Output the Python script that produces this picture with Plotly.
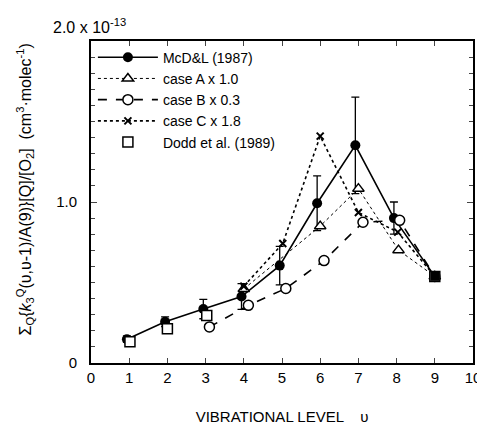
import plotly.graph_objects as go

# ---- data (units of 1e-13 cm^3 molec^-1) ----
mcdl_x = [0.94, 1.94, 2.94, 3.94, 4.94, 5.92, 6.92, 7.93, 9.0]
mcdl_y = [0.148, 0.256, 0.335, 0.413, 0.605, 0.992, 1.352, 0.900, 0.538]
mcdl_err = [0.02, 0.03, 0.06, 0.08, 0.12, 0.17, 0.30, 0.10, 0.0]

caseA_x = [4.0, 6.0, 7.0, 8.05, 9.0]
caseA_y = [0.460, 0.850, 1.083, 0.701, 0.538]

caseB_x = [3.1, 4.12, 5.1, 6.1, 7.12, 8.08, 9.0]
caseB_y = [0.224, 0.358, 0.463, 0.636, 0.874, 0.886, 0.538]

caseC_x = [4.0, 5.02, 6.0, 7.0, 8.03, 9.0]
caseC_y = [0.477, 0.742, 1.409, 0.935, 0.813, 0.538]

dodd_x = [1.02, 2.0, 3.03, 9.0]
dodd_y = [0.132, 0.213, 0.295, 0.538]

names = ["McD&L (1987)", "case A x 1.0", "case B x 0.3", "case C x 1.8", "Dodd et al. (1989)"]

x_ticks = list(range(0, 11))
y_tickvals = [0, 1.0]
y_ticktext = ["0", "1.0"]

FONT = "Liberation Sans, Arial, sans-serif"

fig = go.Figure()

fig.add_trace(go.Scatter(
    x=mcdl_x, y=mcdl_y, name=names[0], mode="lines+markers",
    line=dict(color="black", width=1.6),
    marker=dict(symbol="circle", size=10, color="black"),
    error_y=dict(type="data", array=mcdl_err, color="black", thickness=1.3, width=4),
))
fig.add_trace(go.Scatter(
    x=caseA_x, y=caseA_y, name=names[1], mode="lines+markers",
    line=dict(color="black", width=1, dash="dot"),
    marker=dict(symbol="triangle-up", size=10, color="white", line=dict(color="black", width=1.5)),
))
fig.add_trace(go.Scatter(
    x=caseB_x, y=caseB_y, name=names[2], mode="lines+markers",
    line=dict(color="black", width=1.6, dash="dash"),
    marker=dict(symbol="circle", size=10, color="white", line=dict(color="black", width=1.5)),
))
fig.add_trace(go.Scatter(
    x=caseC_x, y=caseC_y, name=names[3], mode="lines+markers",
    line=dict(color="black", width=1.6, dash="3px,3px"),
    marker=dict(symbol="x-thin", size=7, color="black", line=dict(color="black", width=2)),
))
fig.add_trace(go.Scatter(
    x=dodd_x, y=dodd_y, name=names[4], mode="markers",
    marker=dict(symbol="square", size=10, color="white", line=dict(color="black", width=1.5)),
))
# redraw the final McD&L point on top so it looks filled like the reference
fig.add_trace(go.Scatter(
    x=mcdl_x[-1:], y=mcdl_y[-1:], mode="markers", showlegend=False,
    marker=dict(symbol="square", size=9, color="black"),
))

fig.update_layout(
    width=485, height=427,
    margin=dict(l=83, r=12, t=33, b=66),
    paper_bgcolor="white", plot_bgcolor="white",
    font=dict(family=FONT, size=15, color="black"),
    showlegend=True,
    legend=dict(
        x=0.005, y=0.998, xanchor="left", yanchor="top",
        bgcolor="rgba(0,0,0,0)", font=dict(size=14, family=FONT),
        itemwidth=60, tracegroupgap=0,
    ),
    xaxis=dict(
        range=[0, 10], tickvals=x_ticks, ticks="inside", ticklen=5, tickwidth=1.2,
        showline=True, linecolor="black", linewidth=2, mirror="ticks",
        showgrid=False, zeroline=False, tickfont=dict(size=15),
        title=dict(text="VIBRATIONAL LEVEL    υ", font=dict(size=15), standoff=26),
    ),
    yaxis=dict(
        range=[0, 2.0], tickvals=y_tickvals, ticktext=y_ticktext,
        ticks="inside", ticklen=6, tickwidth=1.2, ticklabelstandoff=9,
        minor=dict(dtick=0.1, ticks="inside", ticklen=4, tickwidth=1, showgrid=False),
        showline=True, linecolor="black", linewidth=2, mirror="ticks",
        showgrid=False, zeroline=False, tickfont=dict(size=15),
    ),
    annotations=[
        dict(text="2.0 x 10<sup>-13</sup>", xref="paper", yref="paper",
             x=-0.105, y=1.0, xanchor="left", yanchor="bottom", yshift=3,
             showarrow=False, font=dict(size=16)),
        dict(text="Σ<sub>Q</sub>{<i>k</i><sub>3</sub><sup>Q</sup>(υ,υ-1)/A(9)}[Q]/[O<sub>2</sub>]  (cm<sup>3</sup>·molec<sup>-1</sup>)",
             xref="paper", yref="paper", x=-0.172, y=0.54, xanchor="center", yanchor="middle",
             textangle=-90, showarrow=False, font=dict(size=16)),
    ],
)

fig.write_html("out.html")
